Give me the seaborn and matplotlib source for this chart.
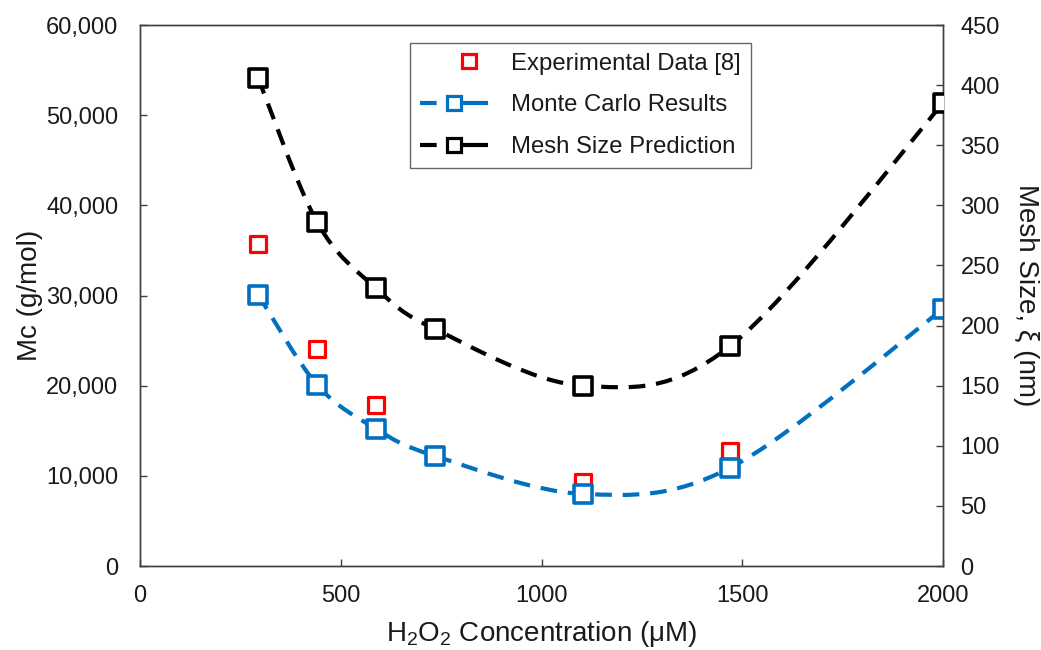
import numpy as np
import matplotlib
matplotlib.use("Agg")
import matplotlib.pyplot as plt
import seaborn as sns
from matplotlib.path import Path
from matplotlib.patches import PathPatch
from matplotlib.lines import Line2D
from matplotlib.legend_handler import HandlerLine2D
from matplotlib.ticker import FuncFormatter

# Data
conc_exp = [294, 441, 588, 1103, 1470]
mc_exp = [35700, 24100, 17900, 9300, 12750]

conc_mc = [294, 441, 588, 735, 1103, 1470, 2000]
mc_sim = [30100, 20100, 15200, 12200, 8000, 10900, 28500]

conc_mesh = [294, 441, 588, 735, 1103, 1470, 2000]
mesh_size = [406, 286, 231, 197, 150, 183, 385]

RED = "#FF0000"
BLUE = "#0070C0"
BLACK = "#000000"
AXIS_COLOR = "#404040"
TEXT_COLOR = "#1a1a1a"
DASH = (0, (4.0, 2.6))
LEG_DASH = (0, (4.0, 2.8, 12.0, 1.0))


def smooth_path(xs, ys):
    # Excel-style smoothed line: cubic Bezier per segment, control points from neighbours
    pts = np.column_stack([xs, ys]).astype(float)
    n = len(pts)
    verts = [pts[0]]
    codes = [Path.MOVETO]
    for i in range(n - 1):
        p0 = pts[i - 1] if i > 0 else pts[i]
        p1 = pts[i]
        p2 = pts[i + 1]
        p3 = pts[i + 2] if i + 2 < n else pts[i + 1]
        c1 = p1 + (p2 - p0) / 6.0
        c2 = p2 - (p3 - p1) / 6.0
        verts += [c1, c2, p2]
        codes += [Path.CURVE4] * 3
    return Path(verts, codes)


class ShiftedMarkerHandler(HandlerLine2D):
    # legend handle like Excel: marker sits right of centre
    def create_artists(self, legend, orig_handle, xdescent, ydescent, width, height,
                       fontsize, trans):
        artists = super().create_artists(legend, orig_handle, xdescent, ydescent,
                                         width, height, fontsize, trans)
        for a in artists:
            if a.get_linestyle() in ("None", "none", ""):
                a.set_xdata([x + 0.22 * width for x in a.get_xdata()])
        return artists


sns.set_theme(style="white")
plt.rcParams["font.family"] = ["Liberation Sans", "DejaVu Sans"]
plt.rcParams["mathtext.default"] = "regular"

fig, ax = plt.subplots(figsize=(10.41, 6.5), dpi=100)
fig.subplots_adjust(left=0.1345, right=0.9059, bottom=0.1292, top=0.9615)
ax2 = ax.twinx()

# smoothed dashed lines
ax.add_patch(PathPatch(smooth_path(conc_mc, mc_sim), fill=False, edgecolor=BLUE,
                       lw=3.0, linestyle=DASH, zorder=2, capstyle="butt"))
ax2.add_patch(PathPatch(smooth_path(conc_mesh, mesh_size), fill=False, edgecolor=BLACK,
                        lw=3.0, linestyle=DASH, zorder=2, capstyle="butt"))

# markers
sns.scatterplot(x=conc_exp, y=mc_exp, ax=ax, marker="s", s=130, facecolor="white",
                edgecolor=RED, linewidth=2.3, zorder=3)
sns.scatterplot(x=conc_mc, y=mc_sim, ax=ax, marker="s", s=165, facecolor="white",
                edgecolor=BLUE, linewidth=2.6, zorder=4)
sns.scatterplot(x=conc_mesh, y=mesh_size, ax=ax2, marker="s", s=165, facecolor="white",
                edgecolor=BLACK, linewidth=2.6, zorder=4)

ax.set_xlim(0, 2000)
ax.set_ylim(0, 60000)
ax2.set_ylim(0, 450)
ax.set_xticks(np.arange(0, 2001, 500))
ax.set_yticks(np.arange(0, 60001, 10000))
ax2.set_yticks(np.arange(0, 451, 50))
ax.yaxis.set_major_formatter(FuncFormatter(lambda v, p: f"{v:,.0f}"))

for a in (ax, ax2):
    for sp in a.spines.values():
        sp.set_color(AXIS_COLOR)
        sp.set_linewidth(1.0)
        sp.set_visible(True)
    a.grid(False)
ax.tick_params(axis="both", direction="in", length=5, width=1, color=AXIS_COLOR,
               labelsize=17, labelcolor=TEXT_COLOR)
ax.tick_params(axis="y", pad=15.5, left=True)
ax.tick_params(axis="x", pad=14, bottom=True)
ax2.tick_params(axis="y", direction="in", length=5, width=1, color=AXIS_COLOR,
                labelsize=17, labelcolor=TEXT_COLOR, pad=12.5, right=True)

ax.set_xlabel("H$_2$O$_2$ Concentration (μM)", fontsize=20, color=TEXT_COLOR, labelpad=8)
ax.set_ylabel("Mc (g/mol)", fontsize=20, color=TEXT_COLOR, labelpad=2)
ax2.set_ylabel("Mesh Size, ξ (nm)", fontsize=20, color=TEXT_COLOR, rotation=270,
               labelpad=28)

handles = [
    Line2D([], [], linestyle="none", marker="s", markersize=9.5, markerfacecolor="white",
           markeredgecolor=RED, markeredgewidth=2.3),
    Line2D([], [], color=BLUE, lw=3.0, linestyle=LEG_DASH, marker="s", markersize=9.5,
           markerfacecolor="white", markeredgecolor=BLUE, markeredgewidth=2.3),
    Line2D([], [], color=BLACK, lw=3.0, linestyle=LEG_DASH, marker="s", markersize=9.5,
           markerfacecolor="white", markeredgecolor=BLACK, markeredgewidth=2.3),
]
labels = ["Experimental Data [8]", "Monte Carlo Results", "Mesh Size Prediction"]
leg = ax2.legend(handles, labels, loc="upper left", bbox_to_anchor=(0.3366, 0.9667),
                 borderaxespad=0, fontsize=17.2, frameon=True, fancybox=False,
                 edgecolor=AXIS_COLOR, handlelength=2.86, handletextpad=0.97,
                 labelspacing=0.83, borderpad=0.4,
                 handler_map={Line2D: ShiftedMarkerHandler()})
leg.get_frame().set_linewidth(1.0)
for t in leg.get_texts():
    t.set_color(TEXT_COLOR)

fig.savefig("out.png", dpi=100)
